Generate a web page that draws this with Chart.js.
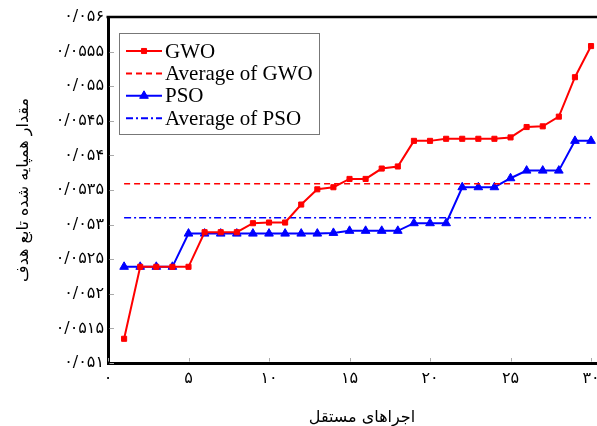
<!DOCTYPE html>
<html><head><meta charset="utf-8">
<script src="https://cdn.jsdelivr.net/npm/chart.js@4/dist/chart.umd.min.js"></script>
<style>html,body{margin:0;padding:0;overflow:hidden;background:#fff;width:597px;height:426px}canvas{display:block}</style>
</head><body><canvas id="c" width="622" height="426"></canvas>
<script>
const runs = [1,2,3,4,5,6,7,8,9,10,11,12,13,14,15,16,17,18,19,20,21,22,23,24,25,26,27,28,29,30];
const gwoValues = [0.05135,0.05239,0.05239,0.05239,0.05239,0.05289,0.05289,0.05289,0.05302,0.05303,0.05303,0.05329,0.05351,0.05354,0.05366,0.05366,0.05381,0.05384,0.05421,0.05421,0.05424,0.05424,0.05424,0.05424,0.05426,0.05441,0.05442,0.05456,0.05513,0.05558];
const psoValues = [0.05239,0.05239,0.05239,0.05239,0.05287,0.05287,0.05287,0.05287,0.05287,0.05287,0.05287,0.05287,0.05287,0.05288,0.05291,0.05291,0.05291,0.05291,0.05302,0.05302,0.05302,0.05354,0.05354,0.05354,0.05367,0.05378,0.05378,0.05378,0.05421,0.05421];
const gwoAverage = 0.05359;
const psoAverage = 0.05310;
const xTickValues = [0,5,10,15,20,25,30];
const yTickValues = [0.051,0.0515,0.052,0.0525,0.053,0.0535,0.054,0.0545,0.055,0.0555,0.056];
const seriesLabels = ['GWO','Average of GWO','PSO','Average of PSO'];
const xTitle = 'اجراهای مستقل';
const yTitle = 'مقدار همپایه شده تابع هدف';

function toPersian(s){ return String(s).replace(/\d/g, d => '۰۱۲۳۴۵۶۷۸۹'[d]).replace('.', '/'); }
const pts = vals => runs.map((r,i)=>({x:r,y:vals[i]}));
const flat = v => [{x:runs[0],y:v},{x:runs[runs.length-1],y:v}];

const RED='#ff0000', BLUE='#0000ff';

const boxLegend = {
  id:'boxLegend',
  afterDatasetsDraw(chart){
    const ctx=chart.ctx; const x0=119,y0=33,w=200,h=101;
    ctx.save();
    ctx.fillStyle='#fff'; ctx.fillRect(x0,y0,w,h);
    ctx.strokeStyle='#777'; ctx.lineWidth=1; ctx.strokeRect(x0+0.5,y0+0.5,w,h);
    chart.data.datasets.forEach((ds,i)=>{
      const y = 51 + i*22.4;
      ctx.strokeStyle=ds.borderColor; ctx.lineWidth=2; ctx.setLineDash(ds.borderDash||[]);
      ctx.beginPath(); ctx.moveTo(126,y); ctx.lineTo(162,y); ctx.stroke();
      ctx.setLineDash([]);
      if (ds.pointRadius>0){
        ctx.fillStyle=ds.borderColor; ctx.strokeStyle=ds.borderColor; ctx.lineWidth=1;
        Chart.helpers.drawPoint(ctx,{pointStyle:ds.pointStyle,radius:ds.pointRadius,borderWidth:1,rotation:0},144,y);
      }
      ctx.fillStyle='#000'; ctx.font='21px "Liberation Serif"'; ctx.textBaseline='middle'; ctx.textAlign='left';
      ctx.fillText(ds.label,165,y+1);
    });
    ctx.restore();
  }
};

const innerTicks = {
  id:'innerTicks',
  beforeDatasetsDraw(chart){
    const {ctx, chartArea:a, scales:{x,y}} = chart;
    ctx.save();
    ctx.strokeStyle='#aaa'; ctx.lineWidth=1; ctx.beginPath();
    y.ticks.forEach(t=>{const p=Math.round(y.getPixelForValue(t.value))+0.5; ctx.moveTo(a.left+1.5,p); ctx.lineTo(a.left+6,p);});
    x.ticks.forEach(t=>{const p=Math.round(x.getPixelForValue(t.value))+0.5; ctx.moveTo(p,a.bottom-1.5); ctx.lineTo(p,a.bottom-5);});
    ctx.stroke();
    ctx.strokeStyle='#000'; ctx.lineWidth=2.5; ctx.beginPath();
    ctx.moveTo(a.left-1.5,a.top); ctx.lineTo(a.right,a.top); ctx.stroke();
    ctx.restore();
  }
};

new Chart(document.getElementById('c'), {
  type:'line',
  data:{ datasets:[
    {label:seriesLabels[0], data:pts(gwoValues), borderColor:RED, backgroundColor:RED, borderWidth:2, pointStyle:'rect', pointRadius:3.6, pointBorderWidth:1, tension:0},
    {label:seriesLabels[1], data:flat(gwoAverage), borderColor:RED, borderWidth:1.6, borderDash:[6,4], pointRadius:0},
    {label:seriesLabels[2], data:pts(psoValues), borderColor:BLUE, backgroundColor:BLUE, borderWidth:2, pointStyle:'triangle', pointRadius:5, pointBorderWidth:1, tension:0},
    {label:seriesLabels[3], data:flat(psoAverage), borderColor:BLUE, borderWidth:1.6, borderDash:[7,3,2,3], pointRadius:0}
  ]},
  options:{
    responsive:false, animation:false, devicePixelRatio:1,
    layout:{padding:{top:17,left:0,right:0,bottom:0}},
    plugins:{legend:{display:false}, tooltip:{enabled:false}},
    scales:{
      x:{ type:'linear', min:0, max:31.55,
        grid:{display:false, drawTicks:false},
        border:{display:true, color:'#000', width:3},
        afterBuildTicks:s=>{ s.ticks = xTickValues.map(v=>({value:v})); },
        afterFit:s=>{ s.height=63; s.paddingLeft=0; s.paddingRight=0; },
        ticks:{ padding:6, color:'#000', font:{family:'DejaVu Sans', size:16}, maxRotation:0, autoSkip:false, callback:v=>toPersian(v) },
        title:{ display:true, text:xTitle, color:'#000', font:{family:'DejaVu Sans', size:16}, padding:{top:4,bottom:-1} }
      },
      y:{ type:'linear', min:0.051, max:0.056,
        grid:{display:false, drawTicks:false},
        border:{display:true, color:'#000', width:3},
        afterBuildTicks:s=>{ s.ticks = yTickValues.map(v=>({value:v})); },
        afterFit:s=>{ s.width=108; s.paddingTop=0; s.paddingBottom=0; },
        ticks:{ padding:4, color:'#000', font:{family:'DejaVu Sans', size:16}, autoSkip:false, callback:v=>toPersian(parseFloat(v.toFixed(4))) },
        title:{ display:true, text:yTitle, color:'#000', font:{family:'DejaVu Sans', size:16}, padding:{top:14,bottom:0} }
      }
    }
  },
  plugins:[innerTicks, boxLegend]
});
</script></body></html>
